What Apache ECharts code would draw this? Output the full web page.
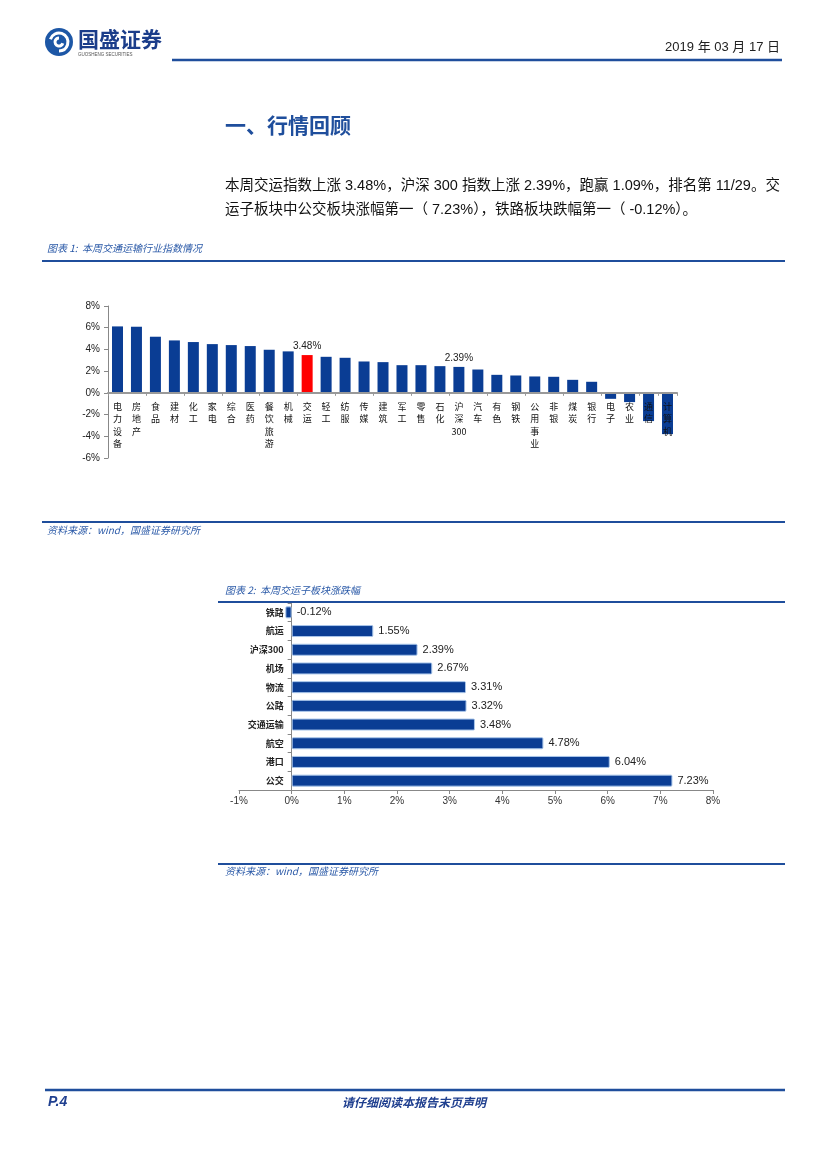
<!DOCTYPE html>
<html><head><meta charset="utf-8">
<script src="https://cdn.jsdelivr.net/npm/echarts@6/dist/echarts.min.js"></script>
<style>html,body{margin:0;padding:0;background:#fff}#c{width:827px;height:1169px}</style>
</head><body><div id="c"></div>
<script>
// ---- Data ----
const industries = ['电力设备','房地产','食品','建材','化工','家电','综合','医药','餐饮旅游','机械','交运','轻工','纺服','传媒','建筑','军工','零售','石化','沪深300','汽车','有色','钢铁','公用事业','非银','煤炭','银行','电子','农业','通信','计算机'];
const industryChange = [6.12,6.09,5.17,4.83,4.68,4.49,4.40,4.31,3.97,3.82,3.48,3.32,3.23,2.89,2.83,2.55,2.55,2.46,2.39,2.15,1.66,1.60,1.51,1.48,1.20,1.02,-0.55,-0.85,-2.60,-3.80];
const highlightName = '交运';
const labelledNames = ['交运','沪深300'];
const yTicks1 = {min:-6, max:8, step:2};

const subSectors = ['铁路','航运','沪深300','机场','物流','公路','交通运输','航空','港口','公交'];
const subChange = [-0.12,1.55,2.39,2.67,3.31,3.32,3.48,4.78,6.04,7.23];
const xTicks2 = {min:-1, max:8, step:1};

// ---- Styles ----
const BLUE = '#0a3d94';
const HEAD = '#1f4e9c';
const SANS = '"Liberation Sans","Noto Sans CJK SC",sans-serif';
const CJK = '"Noto Sans CJK SC","Liberation Sans",sans-serif';

const G1 = {left:108, top:306, width:569, height:152};
const G2 = {left:239, top:603, width:474, height:187};
// place the category axes on the zero line of the value axis
const x1Offset = -G1.height * (0 - yTicks1.min) / (yTicks1.max - yTicks1.min);
const y2Offset = -G2.width * (0 - xTicks2.min) / (xTicks2.max - xTicks2.min);

const chart = echarts.init(document.getElementById('c'), null, {renderer:'canvas'});

const data1 = industries.map((n,i)=>({
  value: industryChange[i],
  itemStyle: {color: n===highlightName ? '#ff0000' : BLUE},
  label: {show: labelledNames.includes(n)}
}));

function txt(x,y,text,font,fill,align){
  return {type:'text', x:x, y:y, z:10, style:{text:text, font:font, fill:fill, align:align||'left', verticalAlign:'middle'}};
}
function ln(x1,y1,x2,y2,color,w){
  return {type:'line', z:10, shape:{x1:x1,y1:y1,x2:x2,y2:y2}, style:{stroke:color, lineWidth:w}};
}

const graphics = [
  // logo
  {type:'circle', z:10, shape:{cx:59,cy:42,r:14}, style:{fill:'#1d57a6'}},
  {type:'arc', z:11, shape:{cx:59,cy:42,r:9,startAngle:-Math.PI*0.9,endAngle:Math.PI*0.5}, style:{stroke:'#fff',lineWidth:3,fill:null}},
  {type:'arc', z:11, shape:{cx:59,cy:42,r:4,startAngle:Math.PI*0.1,endAngle:Math.PI*1.5}, style:{stroke:'#fff',lineWidth:3,fill:null}},
  txt(78,39,'国盛证券','bold 21px '+CJK,'#1b3d8a'),
  txt(78,55,'GUOSHENG SECURITIES','4.5px '+SANS,'#555'),
  txt(780,47,'2019 年 03 月 17 日','13px '+SANS,'#222','right'),
  ln(172,60,782,60,HEAD,2.5),
  // section title & text
  txt(225,125,'一、行情回顾','bold 21px '+CJK,HEAD),
  txt(225,186,'本周交运指数上涨 3.48%，沪深 300 指数上涨 2.39%，跑赢 1.09%，排名第 11/29。交','14.5px '+SANS,'#111'),
  txt(225,210,'运子板块中公交板块涨幅第一（ 7.23%），铁路板块跌幅第一（ -0.12%）。','14.5px '+SANS,'#111'),
  // figure 1
  txt(47,248,'图表 1:  本周交通运输行业指数情况','italic 10px '+CJK,'#2b5aa8'),
  ln(42,261,785,261,HEAD,2),
  ln(42,522,785,522,HEAD,2),
  txt(47,530,'资料来源：wind，国盛证券研究所','italic 10px '+CJK,'#2b5aa8'),
  // figure 2
  txt(225,590,'图表 2:  本周交运子板块涨跌幅','italic 10px '+CJK,'#2b5aa8'),
  ln(218,602,785,602,HEAD,2),
  ln(218,864,785,864,HEAD,2),
  txt(225,871,'资料来源：wind，国盛证券研究所','italic 10px '+CJK,'#2b5aa8'),
  // footer
  ln(45,1090,785,1090,HEAD,2.5),
  txt(48,1102,'P.4','bold italic 14px '+SANS,'#1f3f8f'),
  txt(414,1102,'请仔细阅读本报告末页声明','bold italic 12px '+CJK,'#1f3f8f','center')
];

const option = {
  animation:false,
  backgroundColor:'#fff',
  graphic: graphics,
  grid:[
    Object.assign({containLabel:false}, G1),
    Object.assign({containLabel:false}, G2)
  ],
  xAxis:[
    {type:'category', gridIndex:0, data:industries, zlevel:1, z:10, position:'bottom', offset:x1Offset,
     axisLine:{onZero:false, lineStyle:{color:'#999', width:2}},
     axisTick:{show:true, interval:1, length:3, lineStyle:{color:'#999'}},
     axisLabel:{interval:0, fontSize:9, lineHeight:12.5, color:'#111', margin:7, fontFamily:CJK,
       formatter:v=>v.match(/[0-9]+|./g).join('\n')},
     splitLine:{show:false}},
    {type:'value', gridIndex:1, min:xTicks2.min, max:xTicks2.max, interval:xTicks2.step,
     axisLine:{show:true, onZero:false, lineStyle:{color:'#888'}},
     axisTick:{show:true, length:4, lineStyle:{color:'#888'}},
     axisLabel:{formatter:'{value}%', fontSize:10, color:'#333', margin:6, fontFamily:SANS},
     splitLine:{show:false}}
  ],
  yAxis:[
    {type:'value', gridIndex:0, min:yTicks1.min, max:yTicks1.max, interval:yTicks1.step,
     axisLine:{show:true, onZero:false, lineStyle:{color:'#888'}},
     axisTick:{show:true, length:4, lineStyle:{color:'#888'}},
     axisLabel:{formatter:'{value}%', fontSize:10, color:'#222', margin:8, fontFamily:SANS},
     splitLine:{show:false}},
    {type:'category', gridIndex:1, data:subSectors, inverse:true, position:'left', offset:y2Offset,
     axisLine:{onZero:false, lineStyle:{color:'#888'}},
     axisTick:{show:true, length:4, lineStyle:{color:'#888'}},
     axisLabel:{fontSize:9, fontWeight:'bold', color:'#222', margin:8, fontFamily:CJK},
     splitLine:{show:false}}
  ],
  series:[
    {type:'bar', xAxisIndex:0, yAxisIndex:0, data:data1, barWidth:11, z:1,
     label:{position:'top', distance:4, fontSize:10, color:'#222', fontFamily:SANS,
       formatter:p=>p.value.toFixed(2)+'%'}},
    {type:'bar', xAxisIndex:1, yAxisIndex:1, data:subChange, barWidth:12,
     itemStyle:{color:BLUE, borderColor:'#a9c6ea', borderWidth:1, borderRadius:1},
     label:{show:true, position:'right', distance:5, fontSize:11, color:'#222', fontFamily:SANS,
       formatter:p=>p.value.toFixed(2)+'%'}}
  ]
};
chart.setOption(option);
</script></body></html>
